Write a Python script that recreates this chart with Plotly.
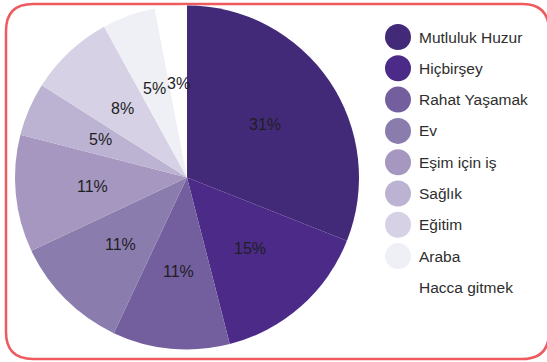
import math
import plotly.graph_objects as go

# Survey answers and their share (%)
categories = ["Mutluluk Huzur", "Hiçbirşey", "Rahat Yaşamak", "Ev", "Eşim için iş",
              "Sağlık", "Eğitim", "Araba", "Hacca gitmek"]
values = [31, 15, 11, 11, 11, 5, 8, 5, 3]
colors = ["#432a78", "#4c2b88", "#735e9e", "#8b7cae", "#a597c0",
          "#bcb3d2", "#d6d1e4", "#eff0f5", "#ffffff"]

W, H = 547, 362
# pie geometry in pixels
CX, CY, R = 187, 177.5, 172

fig = go.Figure()
fig.add_trace(go.Pie(
    labels=categories,
    values=values,
    sort=False,
    direction="clockwise",
    rotation=0,
    marker=dict(colors=colors, line=dict(width=0)),
    textinfo="none",
    hoverinfo="label+percent",
    showlegend=False,
    domain=dict(x=[(CX - R) / W, (CX + R) / W],
                y=[(H - CY - R) / H, (H - CY + R) / H]),
))

annotations = []
shapes = []

# percentage labels placed at mid-angle of each slice
total = sum(values)
cum = 0
for v in values:
    mid = (cum + v / 2) / total * 2 * math.pi
    cum += v
    rr = 0.55 * R
    px = CX + rr * math.sin(mid)
    py = CY - rr * math.cos(mid)
    annotations.append(dict(
        x=px / W, y=1 - py / H, xref="paper", yref="paper",
        text=f"{v}%", showarrow=False,
        font=dict(family="Liberation Sans, Arial", size=16, color="#1e1e24"),
        xanchor="center", yanchor="middle",
    ))

# legend with round swatches
LX, LY0, DY, LR = 398, 37, 31.3, 13
for i, (name, col) in enumerate(zip(categories, colors)):
    yc = LY0 + i * DY
    shapes.append(dict(
        type="circle", xref="paper", yref="paper",
        x0=(LX - LR) / W, x1=(LX + LR) / W,
        y0=1 - (yc + LR) / H, y1=1 - (yc - LR) / H,
        fillcolor=col, line=dict(width=0), layer="above",
    ))
    annotations.append(dict(
        x=(LX + LR + 6) / W, y=1 - yc / H, xref="paper", yref="paper",
        text=name, showarrow=False, xanchor="left", yanchor="middle",
        font=dict(family="Liberation Sans, Arial", size=15.5, color="#2e2e2e"),
    ))

# rounded frame
x0, y0, x1, y1, rc = 6, 4, 549, 359, 27
def px_(x):
    return x / W
def py_(y):
    return 1 - y / H
path = (f"M {px_(x0 + rc)},{py_(y0)} L {px_(x1 - rc)},{py_(y0)} "
        f"Q {px_(x1)},{py_(y0)} {px_(x1)},{py_(y0 + rc)} "
        f"L {px_(x1)},{py_(y1 - rc)} Q {px_(x1)},{py_(y1)} {px_(x1 - rc)},{py_(y1)} "
        f"L {px_(x0 + rc)},{py_(y1)} Q {px_(x0)},{py_(y1)} {px_(x0)},{py_(y1 - rc)} "
        f"L {px_(x0)},{py_(y0 + rc)} Q {px_(x0)},{py_(y0)} {px_(x0 + rc)},{py_(y0)} Z")
shapes.append(dict(type="path", path=path, xref="paper", yref="paper",
                   line=dict(color="#ee5a5e", width=2.5), layer="below"))

fig.update_layout(
    width=W, height=H,
    margin=dict(l=0, r=0, t=0, b=0),
    paper_bgcolor="white", plot_bgcolor="white",
    shapes=shapes, annotations=annotations,
)

fig.write_html("out.html")
